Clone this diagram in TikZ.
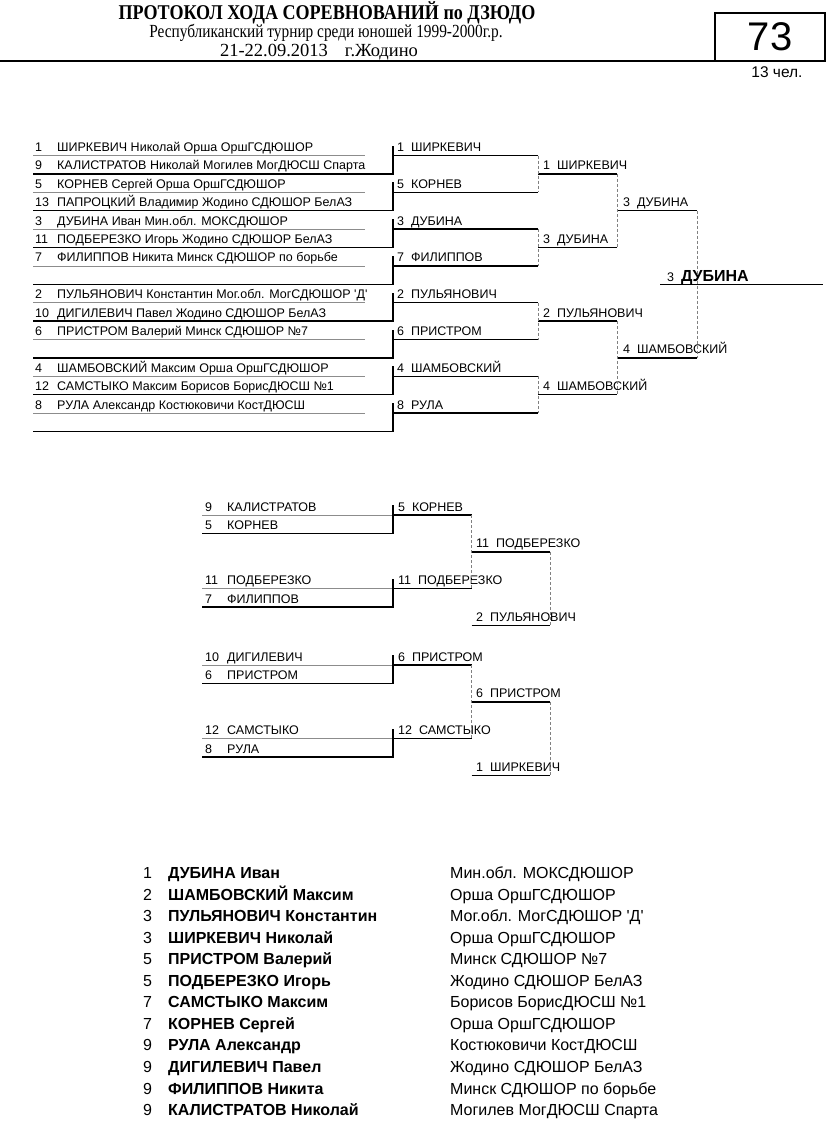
\documentclass[tikz,border=0pt]{standalone}
\usepackage{fontspec}
\setmainfont{Liberation Sans}
\newfontfamily\timesfont{Liberation Serif}

\begin{document}
\begin{tikzpicture}[x=1pt, y=-1pt,
    heavy/.style={line width=1.5pt},
    light/.style={line width=0.7pt, black!45},
    link/.style={line width=0.6pt, black!50, densely dashed},
    entry/.style={anchor=base west, inner sep=0pt, font=\fontsize{12.5}{14}\selectfont},
    place/.style={anchor=base west, inner sep=0pt, font=\fontsize{16}{18}\selectfont}]
    \useasboundingbox (0,0) rectangle (838,1125);

    % Header
    \node[anchor=base, inner sep=0pt] (title) at (327,19.5) {\timesfont\bfseries\scalebox{0.86}[1]{\fontsize{21}{23}\selectfont ПРОТОКОЛ ХОДА СОРЕВНОВАНИЙ по ДЗЮДО}};
    \node[anchor=base, inner sep=0pt] (event) at (326,37.5) {\timesfont\scalebox{0.83}[1]{\fontsize{18.5}{20}\selectfont Республиканский турнир среди юношей 1999-2000г.р.}};
    \node[anchor=base, inner sep=0pt] (date) at (319,56) {\timesfont\fontsize{18.5}{20}\selectfont 21-22.09.2013\hspace{17pt}г.Жодино};
    \draw[heavy] (0,61) -- (715,61);
    \draw[line width=2pt] (715,13) rectangle (825,61);
    \node[inner sep=0pt] (weight) at (770,37) {\fontsize{40}{44}\selectfont 73};
    \node[inner sep=0pt] (count) at (777,72.5) {\fontsize{15.5}{17}\selectfont 13 чел.};

    % Main bracket: entries
    \foreach \k/\n/\t in {0/1/{ШИРКЕВИЧ Николай Орша ОршГСДЮШОР},
        1/9/{КАЛИСТРАТОВ Николай Могилев МогДЮСШ Спарта},
        2/5/{КОРНЕВ Сергей Орша ОршГСДЮШОР},
        3/13/{ПАПРОЦКИЙ Владимир Жодино СДЮШОР БелАЗ},
        4/3/{ДУБИНА Иван Мин.обл. МОКСДЮШОР},
        5/11/{ПОДБЕРЕЗКО Игорь Жодино СДЮШОР БелАЗ},
        6/7/{ФИЛИППОВ Никита Минск СДЮШОР по борьбе},
        8/2/{ПУЛЬЯНОВИЧ Константин Мог.обл. МогСДЮШОР \textquotesingle Д\textquotesingle},
        9/10/{ДИГИЛЕВИЧ Павел Жодино СДЮШОР БелАЗ},
        10/6/{ПРИСТРОМ Валерий Минск СДЮШОР №7},
        12/4/{ШАМБОВСКИЙ Максим Орша ОршГСДЮШОР},
        13/12/{САМСТЫКО Максим Борисов БорисДЮСШ №1},
        14/8/{РУЛА Александр Костюковичи КостДЮСШ}} {
        \node[entry] (num\k) at (35,{151.5+18.4*\k}) {\n};
        \node[entry] (name\k) at (57,{151.5+18.4*\k}) {\t};
    }
    \foreach \k in {0,2,...,14}
        \draw[light] (33,{155.5+18.4*\k}) -- (365,{155.5+18.4*\k});
    \foreach \k in {1,3,...,15}
        \draw[heavy] (33,{155.5+18.4*\k}) -- (393,{155.5+18.4*\k}) -- (393,{145.5+18.4*(\k-1)});

    % Main bracket: rounds
    \foreach \k/\t in {0/{1\ \ ШИРКЕВИЧ}, 2/{5\ \ КОРНЕВ}, 4/{3\ \ ДУБИНА}, 6/{7\ \ ФИЛИППОВ},
        8/{2\ \ ПУЛЬЯНОВИЧ}, 10/{6\ \ ПРИСТРОМ}, 12/{4\ \ ШАМБОВСКИЙ}, 14/{8\ \ РУЛА}} {
        \draw[heavy] (393,{155.5+18.4*\k}) -- (538,{155.5+18.4*\k});
        \node[entry] (ra\k) at (397,{151.5+18.4*\k}) {\t};
    }
    \foreach \k/\t in {1/{1\ \ ШИРКЕВИЧ}, 5/{3\ \ ДУБИНА}, 9/{2\ \ ПУЛЬЯНОВИЧ}, 13/{4\ \ ШАМБОВСКИЙ}} {
        \draw[heavy] (538,{155.5+18.4*\k}) -- (617,{155.5+18.4*\k});
        \node[entry] (rb\k) at (543,{151.5+18.4*\k}) {\t};
    }
    \foreach \k/\t in {3/{3\ \ ДУБИНА}, 11/{4\ \ ШАМБОВСКИЙ}} {
        \draw[heavy] (617,{155.5+18.4*\k}) -- (697,{155.5+18.4*\k});
        \node[entry] (rc\k) at (623,{151.5+18.4*\k}) {\t};
    }
    \foreach \a/\b in {0/2, 4/6, 8/10, 12/14}
        \draw[link] (538,{155.5+18.4*\a}) -- (538,{155.5+18.4*\b});
    \foreach \a/\b in {1/5, 9/13}
        \draw[link] (617,{155.5+18.4*\a}) -- (617,{155.5+18.4*\b});
    \draw[link] (697,{155.5+18.4*3}) -- (697,{155.5+18.4*11});

    % Winner
    \draw[heavy] (660,284.3) -- (823,284.3);
    \node[entry] (winner) at (667,281) {3\ \ {\fontsize{16}{18}\selectfont\bfseries ДУБИНА}};

    % Repechage
    \foreach \g/\base/\na/\ta/\nb/\tb/\nc/\tc/\nd/\td/\wa/\wb/\fa/\fb in {
        1/515/9/КАЛИСТРАТОВ/5/КОРНЕВ/11/ПОДБЕРЕЗКО/7/ФИЛИППОВ/{5\ \ КОРНЕВ}/{11\ \ ПОДБЕРЕЗКО}/{11\ \ ПОДБЕРЕЗКО}/{2\ \ ПУЛЬЯНОВИЧ},
        2/665/10/ДИГИЛЕВИЧ/6/ПРИСТРОМ/12/САМСТЫКО/8/РУЛА/{6\ \ ПРИСТРОМ}/{12\ \ САМСТЫКО}/{6\ \ ПРИСТРОМ}/{1\ \ ШИРКЕВИЧ}} {
        \node[entry] (rp\g a) at (205,{\base-4}) {\na};
        \node[entry] at (227,{\base-4}) {\ta};
        \node[entry] (rp\g b) at (205,{\base+18.4-4}) {\nb};
        \node[entry] at (227,{\base+18.4-4}) {\tb};
        \node[entry] (rp\g c) at (205,{\base+4*18.4-4}) {\nc};
        \node[entry] at (227,{\base+4*18.4-4}) {\tc};
        \node[entry] (rp\g d) at (205,{\base+5*18.4-4}) {\nd};
        \node[entry] at (227,{\base+5*18.4-4}) {\td};
        \draw[light] (202,\base) -- (393,\base);
        \draw[light] (202,{\base+4*18.4}) -- (393,{\base+4*18.4});
        \draw[heavy] (202,{\base+18.4}) -- (393,{\base+18.4}) -- (393,{\base-10});
        \draw[heavy] (202,{\base+5*18.4}) -- (393,{\base+5*18.4}) -- (393,{\base+4*18.4-10});
        \draw[heavy] (393,\base) -- (471.7,\base);
        \draw[heavy] (393,{\base+4*18.4}) -- (471.7,{\base+4*18.4});
        \node[entry] (rw\g a) at (398,{\base-4}) {\wa};
        \node[entry] (rw\g b) at (398,{\base+4*18.4-4}) {\wb};
        \draw[heavy] (471.7,{\base+2*18.4}) -- (550,{\base+2*18.4});
        \draw[heavy] (471.7,{\base+6*18.4}) -- (550,{\base+6*18.4});
        \node[entry] (rf\g a) at (476,{\base+2*18.4-4}) {\fa};
        \node[entry] (rf\g b) at (476,{\base+6*18.4-4}) {\fb};
        \draw[link] (471.7,\base) -- (471.7,{\base+4*18.4});
        \draw[link] (550,{\base+2*18.4}) -- (550,{\base+6*18.4});
    }

    % Final standings
    \foreach \i/\p/\n/\c in {0/1/{ДУБИНА Иван}/{Мин.обл. МОКСДЮШОР},
        1/2/{ШАМБОВСКИЙ Максим}/{Орша ОршГСДЮШОР},
        2/3/{ПУЛЬЯНОВИЧ Константин}/{Мог.обл. МогСДЮШОР \textquotesingle Д\textquotesingle},
        3/3/{ШИРКЕВИЧ Николай}/{Орша ОршГСДЮШОР},
        4/5/{ПРИСТРОМ Валерий}/{Минск СДЮШОР №7},
        5/5/{ПОДБЕРЕЗКО Игорь}/{Жодино СДЮШОР БелАЗ},
        6/7/{САМСТЫКО Максим}/{Борисов БорисДЮСШ №1},
        7/7/{КОРНЕВ Сергей}/{Орша ОршГСДЮШОР},
        8/9/{РУЛА Александр}/{Костюковичи КостДЮСШ},
        9/9/{ДИГИЛЕВИЧ Павел}/{Жодино СДЮШОР БелАЗ},
        10/9/{ФИЛИППОВ Никита}/{Минск СДЮШОР по борьбе},
        11/9/{КАЛИСТРАТОВ Николай}/{Могилев МогДЮСШ Спарта}} {
        \node[place] (rank\i) at (143,{878.5+21.55*\i}) {\p};
        \node[place, font=\fontsize{16}{18}\selectfont\bfseries] (who\i) at (168,{878.5+21.55*\i}) {\n};
        \node[place] (club\i) at (450,{878.5+21.55*\i}) {\c};
    }
\end{tikzpicture}
\end{document}
